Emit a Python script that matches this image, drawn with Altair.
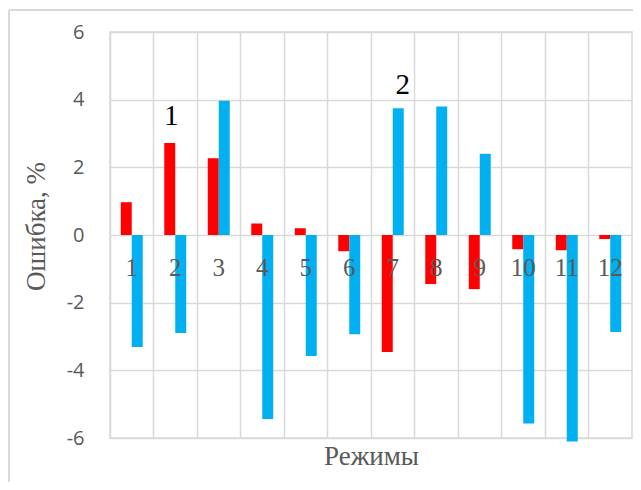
import altair as alt
import pandas as pd

modes = [str(i) for i in range(1, 13)]
red_vals = [0.97, 2.72, 2.27, 0.34, 0.20, -0.48, -3.46, -1.45, -1.60, -0.42, -0.45, -0.12]
blue_vals = [-3.31, -2.90, 3.97, -5.44, -3.58, -2.93, 3.75, 3.80, 2.40, -5.57, -6.10, -2.87]

rows = []
for m, r, b in zip(modes, red_vals, blue_vals):
    rows.append({"mode": m, "s": "a", "v": r})
    rows.append({"mode": m, "s": "b", "v": b})
df = pd.DataFrame(rows)

ann_text = ["1", "2"]
ann_mode = ["2", "7"]
ann_y = [3.53, 4.43]
ann_dx = [-4, 10]

lab = pd.DataFrame({"mode": modes})

GRID = "#d9d9d9"
TXT = "#595959"
SERIF = "Liberation Serif"

xscale = alt.Scale(domain=modes, paddingInner=0, paddingOuter=0)
yscale = alt.Scale(domain=[-6, 6], nice=False)

x_enc = alt.X("mode:N", scale=xscale, sort=modes,
              axis=alt.Axis(grid=True, gridColor=GRID, gridWidth=1.5, domain=False,
                            ticks=False, labels=False, bandPosition=0,
                            title="Режимы", titleFont=SERIF, titleFontSize=27,
                            titleColor=TXT, titleFontWeight="normal", titlePadding=5))
y_enc = alt.Y("v:Q", scale=yscale,
              axis=alt.Axis(values=[-6, -4, -2, 0, 2, 4, 6], grid=True, gridColor=GRID,
                            gridWidth=1.5, domain=False, ticks=False, labelPadding=26,
                            labelExpr="'' + datum.value",
                            labelFont="Open Sans", labelFontSize=20, labelColor=TXT,
                            title="Ошибка, %", titleFont=SERIF, titleFontSize=27,
                            titleColor=TXT, titleFontWeight="normal", titlePadding=16,
                            titleY=194))

bars = alt.Chart(df).mark_bar().encode(
    x=x_enc,
    xOffset=alt.XOffset("s:N", scale=alt.Scale(domain=["a", "b"], paddingOuter=0.98, paddingInner=0)),
    y=y_enc,
    color=alt.Color("s:N", scale=alt.Scale(domain=["a", "b"], range=["#FF0000", "#00B0F0"]), legend=None),
)

xlabels = alt.Chart(lab).mark_text(font=SERIF, fontSize=25, color=TXT, dy=33).encode(
    x=alt.X("mode:N", sort=modes), y=alt.datum(0), text="mode:N")

annots = []
for t, m, yv, dxv in zip(ann_text, ann_mode, ann_y, ann_dx):
    d = pd.DataFrame({"t": [t], "mode": [m], "y": [yv]})
    annots.append(
        alt.Chart(d).mark_text(font=SERIF, fontSize=29, color="#000000", dx=dxv).encode(
            x=alt.X("mode:N", sort=modes), y=alt.Y("y:Q"), text="t:N"))

frame_top = alt.Chart(lab).mark_rule(color=GRID, strokeWidth=1.5).encode(
    x=alt.value(-101), x2=alt.value(540), y=alt.value(-22))
frame_left = alt.Chart(lab).mark_rule(color=GRID, strokeWidth=1.5).encode(
    x=alt.value(-101), y=alt.value(-22), y2=alt.value(470))

chart = alt.layer(bars, xlabels, *annots, frame_top, frame_left).properties(
    width=522, height=406,
    padding={"left": 102, "top": 24, "right": 1, "bottom": 44},
    autosize=alt.AutoSizeParams(type="none"),
).configure_view(stroke=GRID, strokeWidth=1.5)

chart.save("out.html", embed_options={"renderer": "svg", "actions": False})
